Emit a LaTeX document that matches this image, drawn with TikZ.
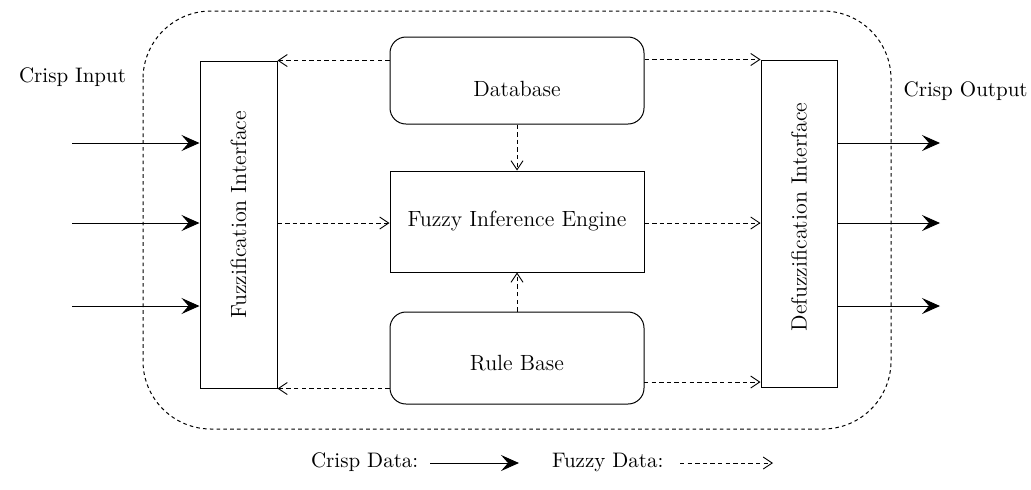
\documentclass[tikz,border=0pt]{standalone}
\usetikzlibrary{arrows.meta}
\begin{document}
\begin{tikzpicture}[x=0.5pt,y=-0.5pt,
  every node/.style={font=\fontsize{10.5}{12}\selectfont},
  boxtext/.style={font=\fontsize{11}{13}\selectfont},
  box/.style={draw,line width=0.5pt,inner sep=0pt},
  rbox/.style={box,rounded corners=8pt},
  crisp/.style={line width=0.5pt,-{Stealth[length=9pt,width=8pt,inset=3.5pt]}},
  fuzzy/.style={line width=0.45pt,dash pattern=on 2.2pt off 1.6pt,-{Straight Barb[length=4.5pt,width=6pt,line width=0.45pt]}},
  outer/.style={line width=0.5pt,dash pattern=on 1.8pt off 1.6pt,rounded corners=34pt}]
\useasboundingbox (0,0) rectangle (1031,489);
% outer boundary
\draw[outer] (143,11) rectangle (891,429);
% main blocks
\node[box,minimum width=38.5pt,minimum height=163.5pt] (fuzz) at (238.5,224.5) {};
\node[boxtext,rotate=90] (fuzzT) at (238.5,215) {Fuzzification Interface};
\node[box,minimum width=38pt,minimum height=163.5pt] (defuzz) at (799,223.5) {};
\node[boxtext,rotate=90] (defuzzT) at (799,217) {Defuzzification Interface};
\node[rbox,minimum width=127pt,minimum height=43.5pt] (db) at (517,80.5) {};
\node[boxtext] (dbT) at (517,89) {Database};
\node[box,boxtext,minimum width=127pt,minimum height=50.5pt] (fie) at (517,221.5) {Fuzzy Inference Engine};
\node[rbox,minimum width=127pt,minimum height=46pt] (rb) at (517,358) {};
\node[boxtext] (rbT) at (517,363) {Rule Base};
% labels
\node[anchor=west] (cin) at (12,77) {Crisp Input};
\node[anchor=east,inner xsep=0pt] (cout) at (1028,91) {Crisp Output};
% crisp inputs / outputs
\coordinate (in1) at (72,143);
\coordinate (in2) at (72,223);
\coordinate (in3) at (72,306);
\coordinate (out1) at (940,143);
\coordinate (out2) at (940,223);
\coordinate (out3) at (940,306);
\draw[crisp] (in1) -- (in1 -| fuzz.west);
\draw[crisp] (in2) -- (in2 -| fuzz.west);
\draw[crisp] (in3) -- (in3 -| fuzz.west);
\draw[crisp] (out1 -| defuzz.east) -- (out1);
\draw[crisp] (out2 -| defuzz.east) -- (out2);
\draw[crisp] (out3 -| defuzz.east) -- (out3);
% fuzzy flows
\draw[fuzzy] (db.west |- fuzz.north) -- (fuzz.north east);
\draw[fuzzy] (db.east |- defuzz.north) -- (defuzz.north west);
\draw[fuzzy] (rb.west |- fuzz.south) -- (fuzz.south east);
\coordinate (rbd) at (644,382);
\draw[fuzzy] (rbd) -- (rbd -| defuzz.west);
\draw[fuzzy] (in2 -| fuzz.east) -- (in2 -| fie.west);
\draw[fuzzy] (in2 -| fie.east) -- (in2 -| defuzz.west);
\draw[fuzzy] (db.south) -- (fie.north);
\draw[fuzzy] (rb.north) -- (fie.south);
% legend
\node[anchor=west] (lc) at (304,462) {Crisp Data:};
\coordinate (lca) at (430,463);
\coordinate (lcb) at (519,463);
\draw[crisp] (lca) -- (lcb);
\node[anchor=west] (lf) at (545,462) {Fuzzy Data:};
\coordinate (lfa) at (680,463);
\coordinate (lfb) at (773,463);
\draw[fuzzy] (lfa) -- (lfb);
\end{tikzpicture}
\end{document}
